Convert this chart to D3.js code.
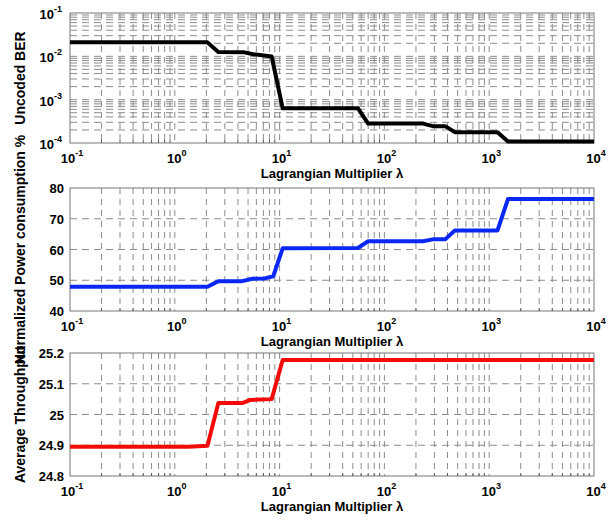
<!DOCTYPE html>
<html>
<head>
<meta charset="utf-8">
<script src="https://cdn.jsdelivr.net/npm/d3@7/dist/d3.min.js"></script>
<style>
  body { margin: 0; background: #fff; }
  text { font-family: "Liberation Sans", Arial, sans-serif; font-weight: bold; fill: #000; }
</style>
</head>
<body>
<svg></svg>
<script>
var width = 613;
var height = 520;

// lambda breakpoints and values
var berX = [0.1, 2.05, 2.6, 4.5, 5.6, 8.4, 10.7, 56, 70, 234, 290, 380, 470, 1200, 1510, 10000];
var berY = [0.021, 0.021, 0.0126, 0.0125, 0.0112, 0.0099, 0.00063, 0.00063, 0.00028, 0.00028, 0.000245, 0.000245, 0.000178, 0.000178, 0.000108, 0.000108];

var powX = [0.1, 2.05, 2.6, 4.4, 5.5, 7.2, 8.7, 10.7, 56, 70, 234, 290, 380, 470, 1200, 1510, 10000];
var powY = [47.9, 47.9, 49.7, 49.7, 50.5, 50.6, 51.3, 60.4, 60.5, 62.7, 62.7, 63.3, 63.3, 66.2, 66.2, 76.4, 76.4];

var thrX = [0.1, 1.35, 2.05, 2.6, 4.4, 5.2, 8.4, 10.7, 10000];
var thrY = [24.895, 24.895, 24.898, 25.037, 25.037, 25.047, 25.05, 25.177, 25.177];

var xTicks = [0.1, 1, 10, 100, 1000, 10000];
var berTicks = [1e-4, 1e-3, 1e-2, 1e-1];
var powTicks = [40, 50, 60, 70, 80];
var thrTicks = [24.8, 24.9, 25, 25.1, 25.2];
var thrTickLabels = ["24.8", "24.9", "25", "25.1", "25.2"];

var svg = d3.select('svg')
    .attr('width', width)
    .attr('height', height);

var x = d3.scaleLog().domain([0.1, 10000]).range([70, 594]);

// minor positions 2..9 x 10^k between the limits
var minorLog = function (lo, hi) {
  var out = [];
  for (var e = Math.round(Math.log10(lo)); e < Math.round(Math.log10(hi)); e++) {
    for (var m = 2; m <= 9; m++) out.push(m * Math.pow(10, e));
  }
  return out;
};

var xMinor = minorLog(0.1, 10000);

var powerLabel = function (sel, v, px, py, anchor) {
  var e = Math.round(Math.log10(v));
  var t = sel.append('text').attr('x', px).attr('y', py).attr('text-anchor', anchor).style('font-size', '13px');
  t.append('tspan').text('10');
  t.append('tspan').attr('dy', -7).style('font-size', '9px').text(e);
};

var panel = function (cfg) {
  var y = cfg.y;
  var top = y.range()[1], bottom = y.range()[0];
  var g = svg.append('g');

  // grid: vertical
  g.selectAll('line.vg')
    .data(xMinor.concat(xTicks.slice(1, -1)))
    .enter().append('line')
    .attr('x1', function (d) { return x(d); })
    .attr('x2', function (d) { return x(d); })
    .attr('y1', top).attr('y2', bottom)
    .attr('stroke', '#8c8c8c').attr('stroke-width', 1)
    .attr('stroke-dasharray', '6,5');

  // grid: horizontal
  g.selectAll('line.hg')
    .data(cfg.hGrid)
    .enter().append('line')
    .attr('x1', 70).attr('x2', 594)
    .attr('y1', function (d) { return y(d); })
    .attr('y2', function (d) { return y(d); })
    .attr('stroke', '#8c8c8c').attr('stroke-width', 1)
    .attr('stroke-dasharray', '7,5');

  // minor ticks on x
  g.selectAll('line.mt')
    .data(xMinor)
    .enter().append('line')
    .attr('x1', function (d) { return x(d); })
    .attr('x2', function (d) { return x(d); })
    .attr('y1', bottom).attr('y2', bottom - 3)
    .attr('stroke', '#555');

  // box
  g.append('rect')
    .attr('x', 70).attr('y', top)
    .attr('width', 524).attr('height', bottom - top)
    .attr('fill', 'none').attr('stroke', '#777').attr('stroke-width', 1);

  // data line
  var line = d3.line()
    .x(function (d) { return x(d[0]); })
    .y(function (d) { return y(d[1]); });
  g.append('path')
    .datum(d3.zip(cfg.xs, cfg.ys))
    .attr('d', line)
    .attr('fill', 'none')
    .attr('stroke', cfg.color)
    .attr('stroke-width', 4)
    .attr('stroke-linejoin', 'round');

  // x tick labels
  xTicks.forEach(function (t) {
    powerLabel(g, t, x(t) + 2, bottom + 20, 'middle');
  });

  // y tick labels
  cfg.yTicks.forEach(function (t, i) {
    if (cfg.logY) {
      powerLabel(g, t, 62, y(t) + 6, 'end');
    } else {
      g.append('text')
        .attr('x', 64).attr('y', y(t) + 5)
        .attr('text-anchor', 'end')
        .style('font-size', '13px')
        .text(cfg.yLabels[i]);
    }
  });

  g.append('text')
    .attr('x', 332).attr('y', bottom + 35)
    .attr('text-anchor', 'middle')
    .style('font-size', '13px')
    .text('Lagrangian Multiplier \u03bb');

  g.append('text')
    .attr('transform', 'translate(25,' + ((top + bottom) / 2) + ') rotate(-90)')
    .attr('text-anchor', 'middle')
    .style('font-size', '14px')
    .text(cfg.title);
};

var yBer = d3.scaleLog().domain([1e-4, 1e-1]).range([143, 13]);
panel({
  y: yBer, xs: berX, ys: berY, color: '#000',
  hGrid: minorLog(1e-4, 1e-1).concat([1e-3, 1e-2]),
  yTicks: berTicks, logY: true,
  title: 'Uncoded BER'
});

var yPow = d3.scaleLinear().domain([40, 80]).range([311, 188]);
panel({
  y: yPow, xs: powX, ys: powY, color: '#0a28f5',
  hGrid: [50, 60, 70],
  yTicks: powTicks, yLabels: powTicks.map(String),
  title: 'Normalized Power consumption %'
});

var yThr = d3.scaleLinear().domain([24.8, 25.2]).range([476, 353]);
panel({
  y: yThr, xs: thrX, ys: thrY, color: '#f50a0a',
  hGrid: [24.9, 25, 25.1],
  yTicks: thrTicks, yLabels: thrTickLabels,
  title: 'Average Throughput'
});
</script>
</body>
</html>
